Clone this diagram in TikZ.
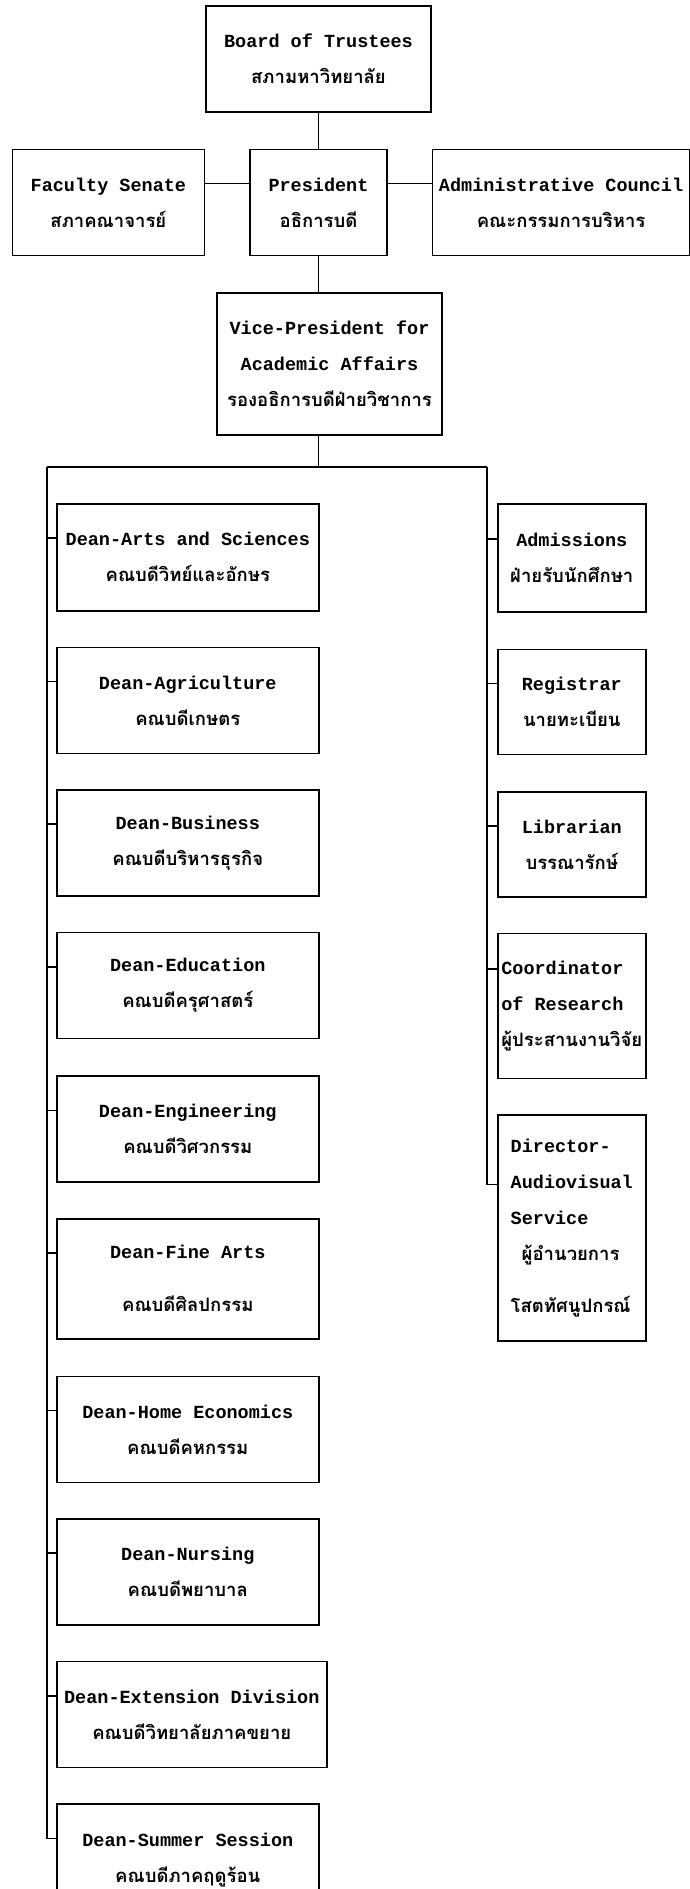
\documentclass[tikz,border=0pt]{standalone}
\usepackage{fontspec}
\setmonofont{Liberation Mono}
\newfontfamily\thaifont[Script=Thai]{Loma}
\newcommand{\thai}[1]{{\thaifont\bfseries #1}}
\usetikzlibrary{positioning}

\begin{document}
\begin{tikzpicture}[
    x=1pt, y=-1pt,
    nodes = {
        align = center
    },
    unit/.style={
        draw,
        rectangle,
        line width=1.6pt,
        inner sep=0pt,
        minimum height=106pt,
        font=\ttfamily\bfseries\fontsize{18.5}{36}\selectfont
    },
    dean/.style={
        unit,
        minimum width=262pt,
        anchor=north west
    },
    office/.style={
        unit,
        minimum width=148pt,
        anchor=north west
    },
    link/.style={
        line width=1.6pt
    }
  ]
    \useasboundingbox (0,0) rectangle (689,1889);

    \node[unit, minimum width=225pt, anchor=north] (board) at (318.5,5) {Board of Trustees\\\thai{สภามหาวิทยาลัย}};
    \node[unit, minimum width=137pt] (pres) [below=36pt of board] {President\\\thai{อธิการบดี}};
    \node[unit, minimum width=192pt] (fac) [left=44pt of pres] {Faculty Senate\\\thai{สภาคณาจารย์}};
    \node[unit, minimum width=257pt] (adm) [right=44pt of pres] {Administrative Council\\\thai{คณะกรรมการบริหาร}};
    \node[unit, minimum width=225pt, minimum height=142pt] (vp) [below=36pt of pres, xshift=11pt] {Vice-President for\\Academic Affairs\\\thai{รองอธิการบดีฝ่ายวิชาการ}};

    \node[dean, minimum height=107pt] (arts) at (56,503) {Dean-Arts and Sciences\\\thai{คณบดีวิทย์และอักษร}};
    \node[dean, below=35pt of arts.south west, anchor=north west] (agri) {Dean-Agriculture\\\thai{คณบดีเกษตร}};
    \node[dean, below=35pt of agri.south west, anchor=north west] (busi) {Dean-Business\\\thai{คณบดีบริหารธุรกิจ}};
    \node[dean, below=35pt of busi.south west, anchor=north west] (educ) {Dean-Education\\\thai{คณบดีครุศาสตร์}};
    \node[dean, below=36pt of educ.south west, anchor=north west] (engi) {Dean-Engineering\\\thai{คณบดีวิศวกรรม}};
    \node[dean, minimum height=120pt, below=35pt of engi.south west, anchor=north west] (fine) {Dean-Fine Arts\\[17pt]\thai{คณบดีศิลปกรรม}};
    \node[dean, below=36pt of fine.south west, anchor=north west] (home) {Dean-Home Economics\\\thai{คณบดีคหกรรม}};
    \node[dean, below=35pt of home.south west, anchor=north west] (nurs) {Dean-Nursing\\\thai{คณบดีพยาบาล}};
    \node[dean, minimum width=270pt, below=35pt of nurs.south west, anchor=north west] (extn) {Dean-Extension Division\\\thai{คณบดีวิทยาลัยภาคขยาย}};
    \node[dean, minimum height=112pt, below=35pt of extn.south west, anchor=north west] (summ) {Dean-Summer Session\\\thai{คณบดีภาคฤดูร้อน}};

    \node[office, minimum height=108pt] (admi) at (497,503) {Admissions\\\thai{ฝ่ายรับนักศึกษา}};
    \node[office, minimum height=105pt, below=36pt of admi.south west, anchor=north west] (regi) {Registrar\\\thai{นายทะเบียน}};
    \node[office, minimum height=105pt, below=36pt of regi.south west, anchor=north west] (libr) {Librarian\\\thai{บรรณารักษ์}};
    \node[office, minimum height=145pt, align=left, below=35pt of libr.south west, anchor=north west] (coor) {Coordinator\\of Research\\\thai{ผู้ประสานงานวิจัย}};
    \node[office, minimum height=226pt, align=left, below=35pt of coor.south west, anchor=north west] (dire) {Director-\\Audiovisual\\Service\\\hspace*{11pt}\thai{ผู้อำนวยการ}\\[16pt]\thai{โสตทัศนูปกรณ์}};

    \coordinate (lt) at (47,467);
    \coordinate (rt) at (487,467);

    \draw[link] (board) -- (pres);
    \draw[link] ([yshift=-35pt]fac.north east) -- ([yshift=-35pt]pres.north west);
    \draw[link] ([yshift=-35pt]pres.north east) -- ([yshift=-35pt]adm.north west);
    \draw[link] (pres.south) -- (pres.south |- vp.north);
    \draw[link] (pres.south |- vp.south) -- (pres.south |- lt);
    \draw[link] (lt) -- (rt);

    \foreach \b in {arts,agri,busi,educ,engi,fine,home,nurs,extn,summ}{
        \coordinate (\b-t) at ([yshift=-35pt]\b.north west);
        \draw[link] (\b-t) -- (lt |- \b-t);
    }
    \draw[link] (lt) |- (summ-t);

    \foreach \b/\d in {admi/36pt,regi/35pt,libr/35pt,coor/36pt,dire/70pt}{
        \coordinate (\b-t) at ([yshift=-\d]\b.north west);
        \draw[link] (\b-t) -- (rt |- \b-t);
    }
    \draw[link] (rt) |- (dire-t);

\end{tikzpicture}
\end{document}
